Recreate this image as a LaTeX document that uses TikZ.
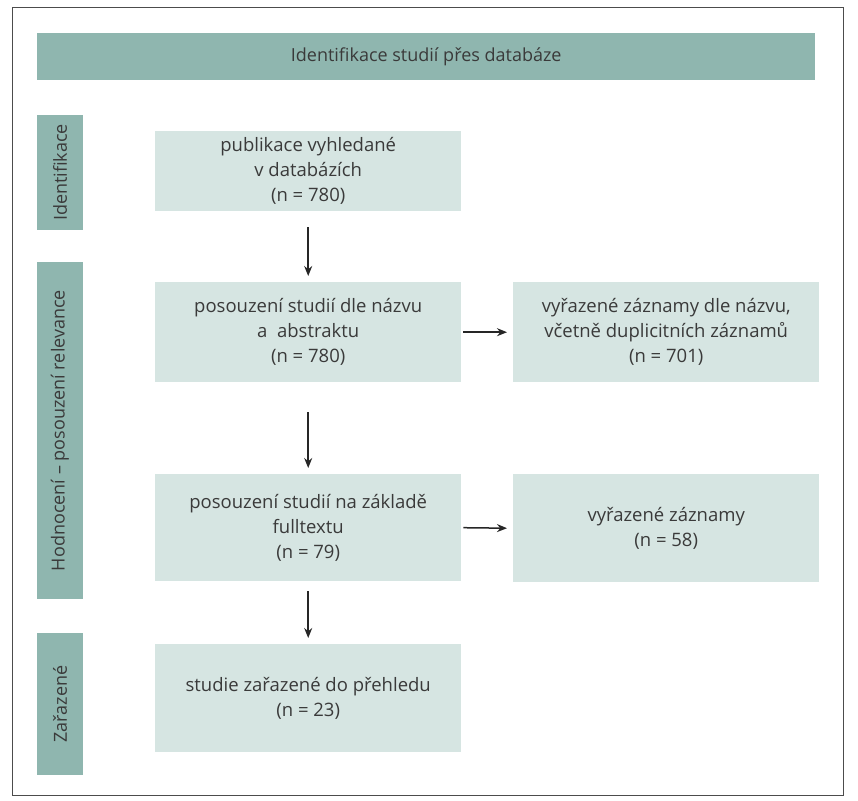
\documentclass[tikz,border=0pt]{standalone}
\usepackage{fontspec}
\setmainfont{Open Sans}
\usetikzlibrary{arrows.meta}
\definecolor{hdr}{HTML}{8FB6AF}
\definecolor{bx}{HTML}{D6E5E2}
\definecolor{txt}{HTML}{3A3A3A}
\begin{document}
\begin{tikzpicture}[x=1pt,y=-1pt,
  bar/.style={fill=hdr,draw=none,text=txt,font=\fontsize{18}{21}\selectfont},
  box/.style={fill=bx,draw=none,text=txt,align=center,font=\fontsize{18.5}{25}\selectfont},
  arr/.style={-{Stealth[length=10pt,width=8pt]},line width=1.5pt,black!85}]
\useasboundingbox (0,0) rectangle (858,800);
\fill[white] (0,0) rectangle (858,800);
\draw[black!70,line width=1pt] (12,8) rectangle (843,795);
\node[bar,minimum width=778pt,minimum height=47pt,anchor=north west] (hd) at (37,33) {Identifikace studií přes databáze};
\node[bar,minimum width=115pt,minimum height=46pt,rotate=90] (l1) at (60,172.5) {Identifikace};
\node[bar,minimum width=337pt,minimum height=46pt,rotate=90] (l2) at (60,430.5) {Hodnocení – posouzení relevance};
\node[bar,minimum width=142pt,minimum height=46pt,rotate=90] (l3) at (60,704) {Zařazené};
\node[box,minimum width=306pt,minimum height=80pt,anchor=north west] (b1) at (155,131) {publikace vyhledané\\v databázích\\(n = 780)};
\node[box,minimum width=306pt,minimum height=100pt,anchor=north west] (b2) at (155,282) {posouzení studií dle názvu\\a\ \ abstraktu\\(n = 780)};
\node[box,minimum width=306pt,minimum height=100pt,anchor=north west] (r2) at (513,282) {vyřazené záznamy dle názvu,\\včetně duplicitních záznamů\\(n = 701)};
\node[box,minimum width=306pt,minimum height=107pt,anchor=north west] (b3) at (155,474) {posouzení studií na základě\\fulltextu\\(n = 79)};
\node[box,minimum width=306pt,minimum height=108pt,anchor=north west] (r3) at (513,474) {vyřazené záznamy\\(n = 58)};
\node[box,minimum width=306pt,minimum height=108pt,anchor=north west] (b4) at (155,644) {studie zařazené do přehledu\\(n = 23)};
\draw[arr] ([yshift=-16pt]b1.south) -- ([yshift=6pt]b2.north);
\draw[arr] ([yshift=-30pt]b2.south) -- ([yshift=6pt]b3.north);
\draw[arr] ([yshift=-10pt]b3.south) -- ([yshift=6pt]b4.north);
\draw[arr] ([xshift=2pt]b2.east) -- ([xshift=-6pt]r2.west);
\draw[arr] ([xshift=2pt]b3.east) -- ([xshift=-6pt]r3.west);
\end{tikzpicture}
\end{document}
